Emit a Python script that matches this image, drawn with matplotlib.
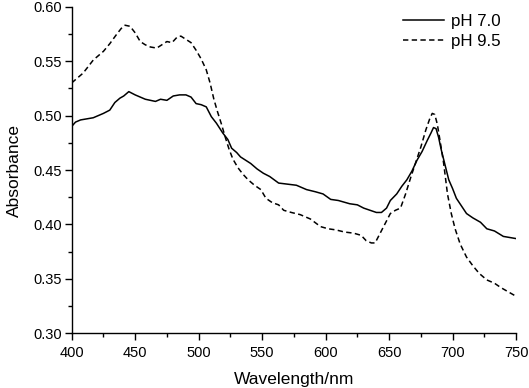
import matplotlib
matplotlib.use("Agg")
import matplotlib.pyplot as plt
from matplotlib.ticker import MultipleLocator

plt.rcParams["font.family"] = ["Liberation Sans", "DejaVu Sans"]

# pH 7.0 spectrum
wl_ph70 = [400, 403, 407, 412, 417, 421, 425, 430, 434, 438,
           441, 445, 450, 454, 458, 462, 466, 470, 475, 480,
           485, 490, 494, 498, 502, 506, 510, 514, 519, 523,
           526, 530, 533, 537, 541, 546, 551, 556, 563, 570,
           577, 585, 592, 598, 604, 610, 619, 625, 630, 635,
           640, 644, 648, 651, 656, 660, 664, 668, 672, 676,
           680, 683, 685, 687, 689, 691, 694, 697, 700, 703,
           707, 711, 716, 722, 727, 733, 740, 745, 750]
abs_ph70 = [0.490, 0.494, 0.496, 0.497, 0.498, 0.500, 0.502, 0.505, 0.512, 0.516,
            0.518, 0.522, 0.519, 0.517, 0.515, 0.514, 0.513, 0.515, 0.514, 0.518,
            0.519, 0.519, 0.517, 0.511, 0.510, 0.508, 0.499, 0.493, 0.484, 0.478,
            0.470, 0.466, 0.462, 0.459, 0.456, 0.451, 0.447, 0.444, 0.438, 0.437,
            0.436, 0.432, 0.430, 0.428, 0.423, 0.422, 0.419, 0.418, 0.415, 0.413,
            0.411, 0.411, 0.415, 0.422, 0.428, 0.435, 0.441, 0.449, 0.459, 0.467,
            0.477, 0.484, 0.489, 0.488, 0.480, 0.469, 0.455, 0.441, 0.433, 0.424,
            0.417, 0.410, 0.406, 0.402, 0.396, 0.394, 0.389, 0.388, 0.387]

# pH 9.5 spectrum
wl_ph95 = [400, 405, 409, 413, 417, 421, 425, 430, 435, 439,
           442, 446, 450, 454, 458, 462, 467, 471, 475, 479,
           483, 486, 490, 494, 498, 502, 506, 509, 512, 515,
           518, 521, 524, 527, 531, 535, 539, 544, 549, 553,
           558, 563, 567, 573, 580, 588, 596, 602, 608, 615,
           622, 628, 632, 636, 639, 643, 647, 651, 655, 659,
           663, 667, 671, 675, 679, 682, 684, 686, 688, 690,
           693, 696, 699, 702, 706, 711, 716, 721, 727, 733,
           738, 744, 750]
abs_ph95 = [0.530, 0.535, 0.539, 0.545, 0.551, 0.555, 0.559, 0.566, 0.574, 0.580,
            0.583, 0.582, 0.576, 0.568, 0.565, 0.563, 0.562, 0.565, 0.568, 0.567,
            0.572, 0.573, 0.570, 0.567, 0.560, 0.552, 0.542, 0.530, 0.515, 0.503,
            0.492, 0.480, 0.469, 0.460, 0.452, 0.446, 0.441, 0.436, 0.432, 0.424,
            0.420, 0.418, 0.413, 0.411, 0.409, 0.405, 0.398, 0.396, 0.395, 0.393,
            0.392, 0.390, 0.385, 0.383, 0.383, 0.392, 0.401, 0.410, 0.413, 0.415,
            0.428, 0.443, 0.457, 0.471, 0.487, 0.497, 0.502, 0.501, 0.492, 0.478,
            0.456, 0.428, 0.410, 0.396, 0.382, 0.370, 0.362, 0.355, 0.349, 0.346,
            0.342, 0.338, 0.334]

fig = plt.figure(figsize=(5.29, 3.88), dpi=100)
ax = fig.add_axes([0.1355, 0.141, 0.84, 0.8417])

ax.plot(wl_ph70, abs_ph70, color="black", lw=1.1, label="pH 7.0")
ax.plot(wl_ph95, abs_ph95, color="black", lw=1.1, ls=(0, (3.5, 2.2)), label="pH 9.5")

ax.set_xlim(400, 750)
ax.set_ylim(0.30, 0.60)
ax.xaxis.set_major_locator(MultipleLocator(50))
ax.xaxis.set_minor_locator(MultipleLocator(25))
ax.yaxis.set_major_locator(MultipleLocator(0.05))
ax.yaxis.set_minor_locator(MultipleLocator(0.025))
ax.yaxis.set_major_formatter(matplotlib.ticker.FormatStrFormatter("%.2f"))

for s in ["top", "right"]:
    ax.spines[s].set_visible(False)
for s in ["left", "bottom"]:
    ax.spines[s].set_linewidth(1.0)

ax.tick_params(which="major", direction="out", length=5, width=1.0, labelsize=10.5)
ax.tick_params(axis="x", which="major", pad=4)
ax.tick_params(axis="y", which="major", pad=2)
ax.tick_params(which="minor", direction="out", length=3, width=1.0)

ax.set_xlabel("Wavelength/nm", fontsize=12.5, labelpad=9)
ax.set_ylabel("Absorbance", fontsize=12.5, labelpad=8)

ax.legend(loc="upper right", bbox_to_anchor=(1.0, 1.025), frameon=False,
          fontsize=12.2, handlelength=2.4, handletextpad=0.45, labelspacing=0.3)

fig.savefig("out.png", dpi=100)
